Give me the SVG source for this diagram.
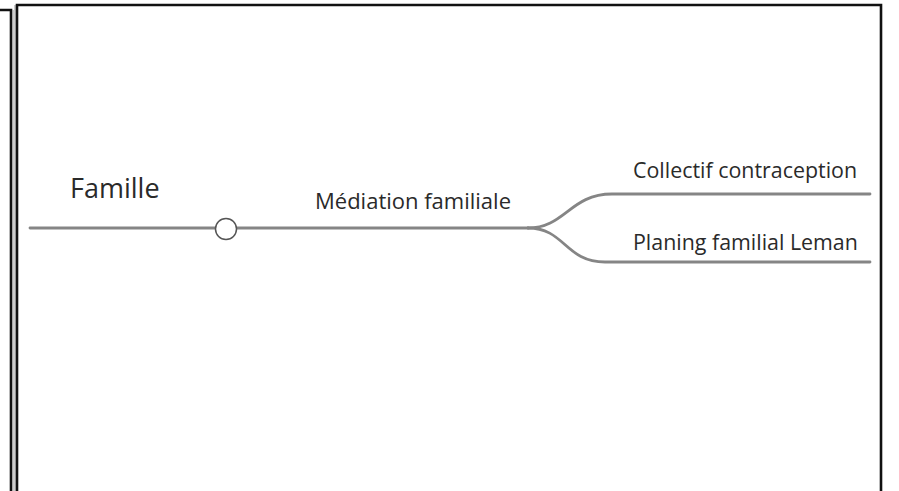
<svg xmlns="http://www.w3.org/2000/svg" width="899" height="491" viewBox="0 0 899 491">
  <style>
    .frame { fill: none; stroke: #111; stroke-width: 2.6; }
    .frame-shade { fill: none; stroke: #999; stroke-width: 1; }
    .branch { fill: none; stroke: #858585; stroke-width: 2.8; stroke-linecap: round; }
    .label { font-family: "Open Sans", Lato, "Liberation Sans", sans-serif; fill: #2a2a2a; font-variant-ligatures: none; }
  </style>

  <!-- page borders -->
  <g id="frames">
    <path class="frame" d="M0,10 H11 V491"/>
    <path class="frame-shade" d="M13,10 V491"/>
    <path class="frame-shade" d="M15,5 V491"/>
    <path class="frame" d="M17,491 V5 H881 V491"/>
  </g>

  <!-- connectors -->
  <g id="connectors">
    <path class="branch" d="M30,228 H215"/>
    <path class="branch" d="M237,228 H528"/>
    <path class="branch" d="M528,228 C565,228 570,194 612,194 H870"/>
    <path class="branch" d="M528,228 C565,228 565,262 605,262 H870"/>
  </g>

  <g id="node-famille">
    <text class="label" x="70" y="198" font-size="27">Famille</text>
    <circle cx="226" cy="229" r="10.5" fill="#fff" stroke="#555" stroke-width="1.5"/>
  </g>

  <g id="node-mediation">
    <text class="label" x="315" y="209" font-size="22">Médiation familiale</text>
  </g>

  <g id="node-collectif">
    <text class="label" x="633" y="178" font-size="21.4">Collectif contraception</text>
  </g>

  <g id="node-planing">
    <text class="label" x="633" y="250" font-size="21.4">Planing familial Leman</text>
  </g>
</svg>
